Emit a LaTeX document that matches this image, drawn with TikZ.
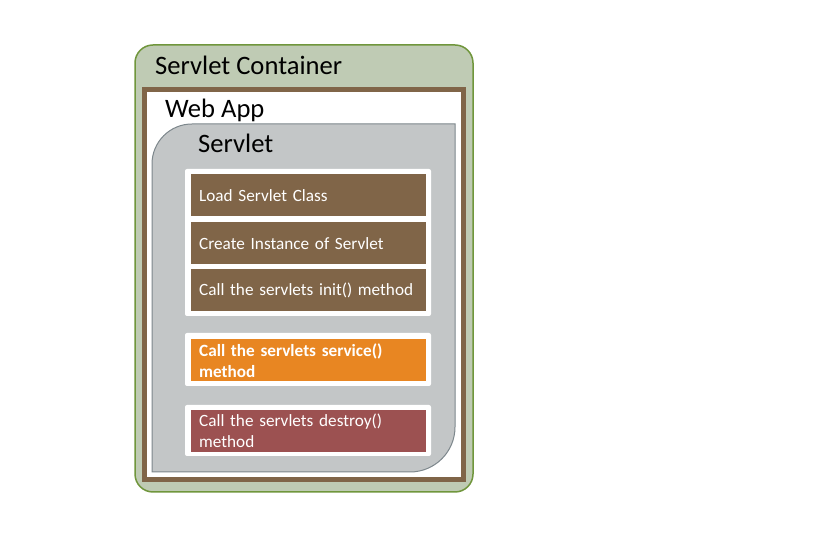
\documentclass[tikz,border=0pt]{standalone}
\usepackage{fontspec}
\setmainfont{Carlito}
\begin{document}
\begin{tikzpicture}[x=1pt,y=1pt,
  title/.style={anchor=base west,inner sep=0pt,font=\fontsize{26.6}{30}\selectfont,text=black},
  stepbox/.style={anchor=north west,draw=none,minimum width=235pt,minimum height=42pt,
    text width=219pt,align=left,inner xsep=8pt,inner ysep=0pt,text=white,
    font=\fontsize{17.2}{21}\selectfont},
  whitebg/.style={fill=white,draw=none,rounded corners=2pt}
]
\definecolor{contfill}{RGB}{191,203,180}
\definecolor{contdraw}{RGB}{112,150,60}
\definecolor{brownc}{RGB}{128,101,72}
\definecolor{grayfill}{RGB}{195,198,199}
\definecolor{graydraw}{RGB}{125,135,140}
\definecolor{orangec}{RGB}{232,134,34}
\definecolor{redc}{RGB}{156,81,81}
\useasboundingbox (0,0) rectangle (819,534);
\fill[white] (0,0) rectangle (819,534);
% container
\draw[fill=contfill,draw=contdraw,line width=1.5pt,rounded corners=18pt] (135,42) rectangle (473,489);
% web app frame
\draw[fill=white,draw=brownc,line width=5pt] (144.5,54.5) rectangle (463,444.5);
% servlet shape
\draw[fill=grayfill,draw=graydraw,line width=1pt]
  (152,62) -- (152,370) arc[start angle=180,end angle=90,radius=40]
  -- (455,410) -- (455,107) arc[start angle=0,end angle=-90,radius=45] -- cycle;
% titles
\node[title] (tcont) at (155,459) {Servlet Container};
\node[title] (tweb) at (165,416) {Web App};
\node[title] (tserv) at (198,381) {Servlet};
% white backgrounds
\fill[whitebg] (185,218) rectangle (431,365);
\fill[whitebg] (185,148) rectangle (431,201);
\fill[whitebg] (185,78) rectangle (431,129);
% steps
\node[stepbox,fill=brownc] (load) at (191,360) {Load Servlet Class};
\node[stepbox,fill=brownc] (create) at (191,312) {Create Instance of Servlet};
\node[stepbox,fill=brownc] (init) at (191,265) {Call the servlets init() method};
\node[stepbox,fill=orangec,font=\fontsize{17.2}{21}\selectfont\bfseries] (service) at (191,195) {Call the servlets service()\\method};
\node[stepbox,fill=redc] (destroy) at (191,124) {Call the servlets destroy()\\method};
\end{tikzpicture}
\end{document}
